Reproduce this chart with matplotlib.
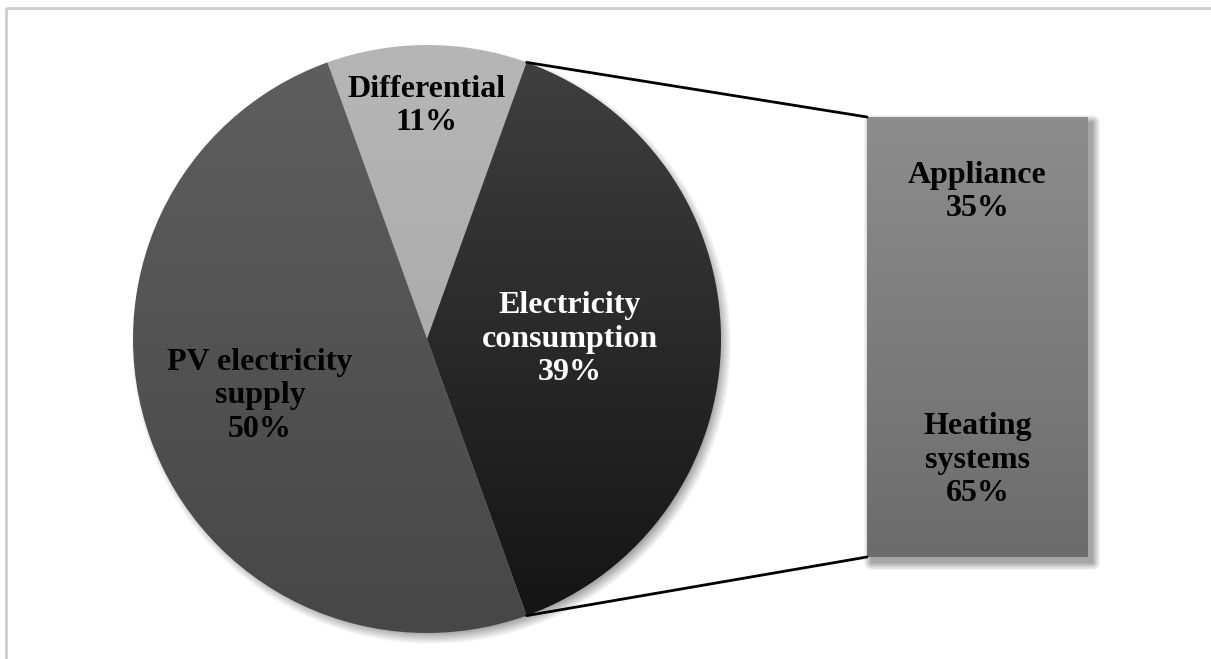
import numpy as np
import matplotlib.pyplot as plt
from matplotlib.colors import LinearSegmentedColormap
from matplotlib.patches import ConnectionPatch

W, H = 1211, 659

# main pie
pie_labels = ["Differential", "Electricity\nconsumption", "PV electricity\nsupply"]
pie_values = [11, 39, 50]
pie_text_colors = ["black", "white", "black"]
# vertical gradient per slice (top colour, bottom colour)
pie_grads = [("#b6b6b6", "#a2a2a2"), ("#404040", "#131313"), ("#5f5f5f", "#474747")]

# breakdown of electricity consumption (bottom to top)
bar_labels = ["Heating\nsystems", "Appliance"]
bar_values = [65, 35]

plt.rcParams['font.family'] = ['Liberation Serif', 'DejaVu Serif']

fig = plt.figure(figsize=(W / 100, H / 100), dpi=100)
ax = fig.add_axes([0, 0, 1, 1])

cx, cy, r = 427, 320, 294
start = 90 + pie_values[0] / 100 * 360 / 2

# soft shadow under the pie
yy, xx = np.mgrid[0:H, 0:W]
d = np.hypot(xx - (cx + 4), (H - yy) - (cy - 5))
a = np.clip((r + 6 - d) / 12, 0, 1) * 0.35
shadow = np.zeros((H, W, 4))
shadow[..., 3] = a
# shadow under the bar
bx0, bx1, by0, by1 = 867, 1088, 102, 542
dx = np.maximum(np.maximum(bx0 + 4 - xx, xx - bx1 - 4), 0)
dy = np.maximum(np.maximum(by0 - 5 - (H - yy), (H - yy) - by1 + 5), 0)
a2 = np.clip(1 - np.hypot(dx, dy) / 8, 0, 1) * 0.35
shadow[..., 3] = np.maximum(shadow[..., 3], a2)
ax.imshow(shadow, extent=(0, W, 0, H), origin="upper", zorder=0)

wedges, _ = ax.pie(pie_values, center=(cx, cy), radius=r, startangle=start,
                   counterclock=False, frame=True,
                   wedgeprops=dict(linewidth=0))

grad = np.linspace(1, 0, 256).reshape(-1, 1)
for w, (top, bot) in zip(wedges, pie_grads):
    w.set_facecolor("none")
    cmap = LinearSegmentedColormap.from_list("g", [bot, top])
    im = ax.imshow(grad, cmap=cmap, extent=(cx - r, cx + r, cy - r, cy + r),
                   origin="upper", aspect="auto", zorder=1)
    im.set_clip_path(w)

# slice labels
label_pos = [(427, 553), (570, 320), (260, 263)]
for lab, val, (x, y), c in zip(pie_labels, pie_values, label_pos, pie_text_colors):
    ax.text(x, y, f"{lab}\n{val}%", ha="center", va="center", color=c,
            fontsize=23, fontweight="bold", linespacing=1.2, zorder=3)

ax.set_xlim(0, W)
ax.set_ylim(0, H)
ax.set_aspect("auto")
ax.axis("off")

# border lines
ax.plot([6, W], [H - 8, H - 8], color="#cdcdcd", lw=2, zorder=0, solid_capstyle="butt")
ax.plot([6, 6], [0, H - 8], color="#cdcdcd", lw=2, zorder=0, solid_capstyle="butt")

# stacked bar
bax = fig.add_axes([bx0 / W, by0 / H, (bx1 - bx0) / W, (by1 - by0) / H])
bars = bax.bar([0] * len(bar_values), bar_values, width=1,
               bottom=np.concatenate([[0], np.cumsum(bar_values)[:-1]]),
               color="none", linewidth=0)
bcmap = LinearSegmentedColormap.from_list("b", ["#6c6c6c", "#8d8d8d"])
for b in bars:
    im = bax.imshow(grad, cmap=bcmap, extent=(-0.5, 0.5, 0, 100),
                    origin="upper", aspect="auto", zorder=1)
    im.set_clip_path(b)
bar_text_y = [22, 83]
for lab, val, y in zip(bar_labels, bar_values, bar_text_y):
    bax.text(0.0, y, f"{lab}\n{val}%", ha="center", va="center",
             fontsize=23, fontweight="bold", linespacing=1.2, zorder=3)
bax.set_xlim(-0.5, 0.5)
bax.set_ylim(0, 100)
bax.axis("off")

# connector lines from the consumption slice to the bar
a1 = np.deg2rad(start - pie_values[0] / 100 * 360)
a2 = np.deg2rad(start - (pie_values[0] + pie_values[1]) / 100 * 360)
for ang, ybar in [(a1, 100), (a2, 0)]:
    con = ConnectionPatch(xyA=(cx + r * np.cos(ang), cy + r * np.sin(ang)), coordsA=ax.transData,
                          xyB=(-0.5, ybar), coordsB=bax.transData,
                          color="black", lw=2)
    fig.add_artist(con)

fig.savefig("out.png", dpi=100)
